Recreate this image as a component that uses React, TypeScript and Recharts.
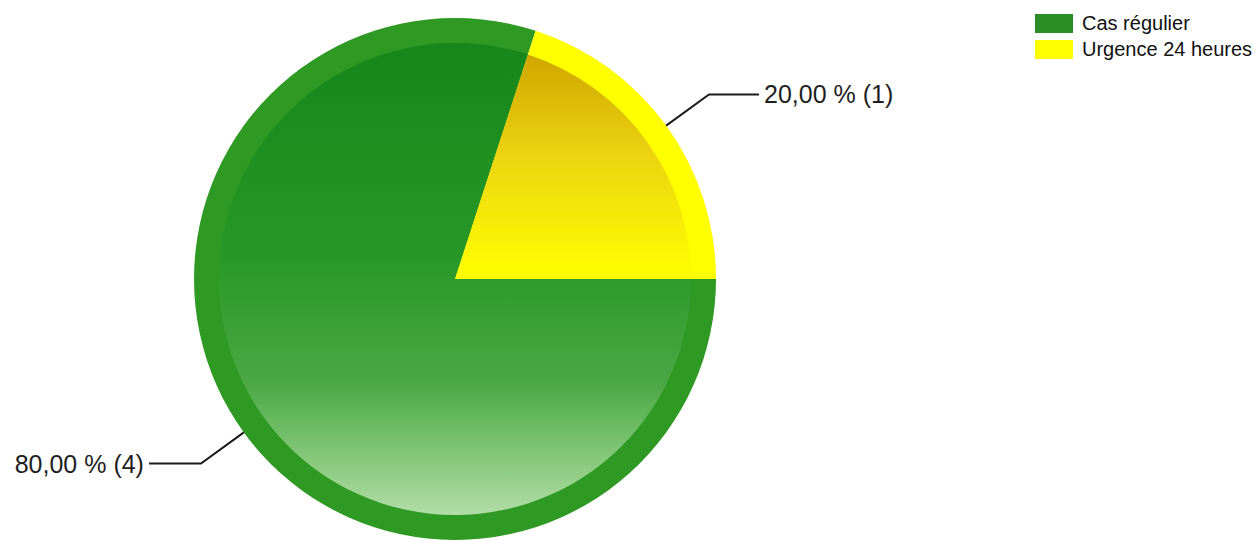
import React from "react";
import { PieChart, Pie, Cell, Legend } from "recharts";

const categories = ["Cas régulier", "Urgence 24 heures"];
const counts = [4, 1];
const percentLabels = ["80,00 %", "20,00 %"];
const ringColors = ["#2f9a23", "#ffff00"];
const innerFills = ["url(#gradGreen)", "url(#gradYellow)"];
const legendColors = ["#2a8d26", "#ffff00"];

const data = categories.map((name, i) => ({ name, value: counts[i], pct: percentLabels[i] }));

const RAD = Math.PI / 180;

const renderLabel = (props: any) => {
  const { cx, cy, midAngle, outerRadius, index } = props;
  const cos = Math.cos(-midAngle * RAD);
  const sin = Math.sin(-midAngle * RAD);
  const sx = cx + outerRadius * cos;
  const sy = cy + outerRadius * sin;
  const mx = cx + (outerRadius + 53) * cos;
  const my = cy + (outerRadius + 53) * sin;
  const right = cos >= 0;
  const ex = mx + (right ? 50 : -52);
  const ey = my;
  const tx = ex + (right ? 5 : -5);
  const d = data[index];
  return (
    <g>
      <polyline points={`${sx},${sy} ${mx},${my} ${ex},${ey}`} fill="none" stroke="#1a1a1a" strokeWidth={2} />
      <text
        x={tx}
        y={ey}
        textAnchor={right ? "start" : "end"}
        dominantBaseline="central"
        fontSize={25}
        fill="#1e1e1e"
        fontFamily="'Liberation Sans', Arial, sans-serif"
      >
        {`${d.pct} (${d.value})`}
      </text>
    </g>
  );
};

const renderLegend = () => (
  <div style={{ fontFamily: "'Liberation Sans', Arial, sans-serif", fontSize: 20, color: "#111" }}>
    {categories.map((c, i) => (
      <div key={c} style={{ display: "flex", alignItems: "center", height: 26 }}>
        <div style={{ width: 38, height: 19, background: legendColors[i], marginRight: 9 }} />
        <span style={{ whiteSpace: "nowrap" }}>{c}</span>
      </div>
    ))}
  </div>
);

export default function App() {
  return (
    <div style={{ position: "absolute", left: 0, top: 0, width: 1253, height: 540, background: "#fff" }}>
      <PieChart width={1253} height={540} margin={{ top: 0, right: 0, bottom: 0, left: 0 }}>
        <defs>
          <linearGradient id="gradGreen" x1="0" y1="0" x2="0" y2="1">
            <stop offset="0" stopColor="#17861b" />
            <stop offset="0.45" stopColor="#279826" />
            <stop offset="0.72" stopColor="#4aa845" />
            <stop offset="0.9" stopColor="#8ccc80" />
            <stop offset="1" stopColor="#b2dca8" />
          </linearGradient>
          <linearGradient id="gradYellow" x1="0" y1="0" x2="0" y2="1">
            <stop offset="0" stopColor="#cfa600" />
            <stop offset="0.45" stopColor="#ecd410" />
            <stop offset="1" stopColor="#ffff00" />
          </linearGradient>
        </defs>
        <Pie
          data={data}
          dataKey="value"
          nameKey="name"
          cx={455}
          cy={279}
          outerRadius={261}
          startAngle={72}
          endAngle={432}
          stroke="none"
          label={renderLabel}
          labelLine={false}
          isAnimationActive={false}
        >
          {data.map((d, i) => (
            <Cell key={d.name} fill={ringColors[i]} />
          ))}
        </Pie>
        <Pie
          data={data}
          dataKey="value"
          nameKey="name"
          cx={455}
          cy={279}
          outerRadius={236}
          startAngle={72}
          endAngle={432}
          stroke="none"
          legendType="none"
          isAnimationActive={false}
        >
          {data.map((d, i) => (
            <Cell key={d.name} fill={innerFills[i]} />
          ))}
        </Pie>
        <Legend
          layout="vertical"
          align="right"
          verticalAlign="top"
          content={renderLegend}
          wrapperStyle={{ top: 10, left: 1035, width: 218 }}
        />
      </PieChart>
    </div>
  );
}
